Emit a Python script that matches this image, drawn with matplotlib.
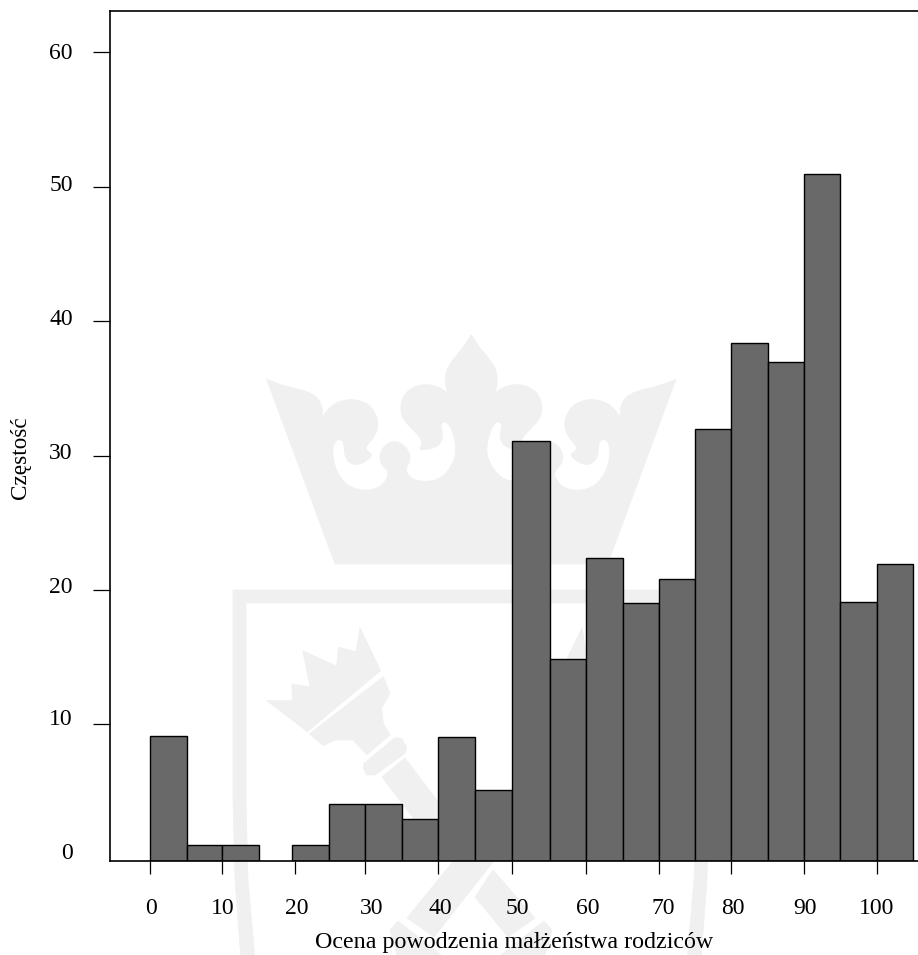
"""
Histogram of parents' marriage success ratings, on the pale crest watermark.
"""
import numpy as np
from matplotlib import pyplot as plt
from matplotlib.patches import Polygon
from matplotlib.transforms import Affine2D, ScaledTranslation

# the original bars are not evenly spaced, edges are read off the picture
bin_edges = [0, 5.09, 10.01, 15.03, 19.6, 24.66, 29.66, 34.66, 39.66, 44.7, 49.9, 55.06, 60.05,
             65.1, 70.08, 75.0, 80.0, 85.0, 90.0, 95.0, 100.0, 105.03]
counts = [9.13, 1.06, 1.06, 0, 1.05, 4.1, 4.1, 3.0, 9.1, 5.1, 31.05, 14.9, 22.4,
          19.0, 20.85, 32.0, 38.4, 36.95, 50.9, 19.1, 21.9]
x_tick_positions = [0, 10.01, 20.03, 29.66, 39.66, 49.9, 60.05, 70.08, 80.0, 90.0, 100.0]
x_tick_labels = ['0', '10', '20', '30', '40', '50', '60', '70', '80', '90', '100']
y_ticks = list(range(0, 61, 10))
x_label = 'Ocena powodzenia małżeństwa rodziców'
y_label = 'Częstość'

W, H = 918, 955
GREY = '#f0f0f0'

plt.rcParams['font.family'] = ['Liberation Serif', 'DejaVu Serif']

fig = plt.figure(figsize=(W / 100, H / 100), dpi=100, facecolor='white')
# pixel coordinates of the picture, y going down
px = Affine2D().scale(1 / W, -1 / H).translate(0, 1) + fig.transFigure


def shape(points):
    fig.add_artist(Polygon(points, closed=True, facecolor=GREY, edgecolor=GREY,
                           linewidth=0.5, transform=px, zorder=-1))


def mirror(points, axis):
    return [(axis - x, y) for x, y in points]


def smooth(points, passes=2):
    """ Corner cutting, so the traced outline does not look polygonal. """
    pts = np.array(points, dtype=float)
    for _ in range(passes):
        nxt = np.roll(pts, -1, axis=0)
        pts = np.column_stack([0.75 * pts + 0.25 * nxt, 0.25 * pts + 0.75 * nxt]).reshape(-1, 2)
    return pts


def draw_watermark():
    # crown, traced on a crop at 3x (offset 220, 320), symmetric around 754
    crown = [(345, 732), (345, 732), (140, 178), (140, 178), (200, 200), (265, 215), (295, 235),
             (308, 265), (306, 292), (306, 292),
             (335, 255), (370, 240), (410, 238), (450, 255), (472, 290), (475, 325), (460, 355),
             (437, 380), (440, 392), (460, 405), (430, 430), (400, 435), (380, 420), (372, 395),
             (372, 365), (355, 356), (340, 372), (338, 410), (350, 455), (380, 497), (430, 513),
             (475, 505), (500, 480), (506, 455), (485, 435), (477, 410), (490, 378), (520, 362),
             (550, 372), (570, 400), (570, 425), (555, 450), (575, 478), (620, 486), (665, 475),
             (700, 430), (710, 385), (695, 325), (675, 302), (660, 315), (670, 345), (660, 375),
             (630, 388), (600, 390), (600, 390), (607, 360), (580, 330), (550, 300), (540, 265),
             (550, 225), (580, 200), (620, 192), (655, 200), (682, 218), (682, 218), (675, 185),
             (680, 145), (710, 105), (735, 75), (753, 45), (753, 45)]
    crown = crown + mirror(crown, 1508)[::-1]
    shape(smooth([(220 + x / 3, 320 + y / 3) for x, y in crown]))

    # shield band, open at the bottom
    left = [(241, 960), (235, 880), (233, 800), (233, 590)]
    inner = [(246, 603), (246, 800), (248, 880), (255, 960)]
    shape(left + mirror(left, 942)[::-1] + mirror(inner, 942)[::-1] + inner)

    # torch head, brush and collar, traced on a crop at 3x (offset 220, 580)
    head = [(140, 362), (218, 362), (215, 312), (270, 320), (248, 212), (350, 258), (355, 202),
            (408, 215), (420, 143), (482, 272), (262, 455)]
    brush = [(490, 290), (510, 340), (485, 385), (490, 430), (510, 465), (440, 525), (400, 480),
             (345, 480), (310, 497), (268, 462)]
    collar = [(432, 550), (525, 473), (545, 475), (560, 500), (555, 520), (465, 585), (440, 585),
              (430, 565)]
    for part in (head, brush, collar):
        part = [(220 + x / 3, 580 + y / 3) for x, y in part]
        shape(part)
        shape(mirror(part, 942))

    # handles crossing below the axis
    shape([(382, 777), (405, 758), (455, 824), (432, 843)])
    shape([(537, 758), (560, 777), (434, 937), (407, 918)])
    shape([(493, 870), (475, 897), (508, 937), (535, 918)])
    butt = [(390, 930), (398, 921), (445, 958), (438, 965), (400, 965)]
    shape(butt)
    shape(mirror(butt, 942))


draw_watermark()

ax = fig.add_axes([109.5 / W, (H - 861) / H, (W - 109.5) / W, 850 / H])
ax.patch.set_alpha(0)

y_min = -0.15
edges = np.array(bin_edges)
counts = np.array(counts)
shown = counts > 0
ax.bar(edges[:-1][shown], counts[shown] - y_min, bottom=y_min, width=np.diff(edges)[shown],
       align='edge', color='#696969', edgecolor='black', linewidth=1.0, zorder=2)

ax.set_xlim(-5.53, 105.68)
ax.set_ylim(y_min, 63.05)

ax.spines['right'].set_visible(False)
for side in ('top', 'left', 'bottom'):
    ax.spines[side].set_linewidth(1.2)
    ax.spines[side].set_zorder(3)

ax.set_xticks(x_tick_positions, labels=x_tick_labels)
ax.set_yticks(y_ticks)
ax.tick_params(axis='x', length=9.4, width=0.9, pad=17.5, labelsize=17)
ax.tick_params(axis='y', length=12, width=0.9, pad=14.5, labelsize=17)
ax.yaxis.get_major_ticks()[0].tick1line.set_visible(False)

# the labels do not sit exactly on their ticks in the original
x_nudge = [1.5, 0, 1, 6, 2.3, 5, 1, 4.5, 2, 1, 0]
y_nudge = [7.5, 7, 5, 5, 4, 4, 1.5]
for label, dx in zip(ax.get_xticklabels(), x_nudge):
    label.set_transform(label.get_transform() + ScaledTranslation(dx / 100, 0, fig.dpi_scale_trans))
for label, dy in zip(ax.get_yticklabels(), y_nudge):
    label.set_transform(label.get_transform() + ScaledTranslation(0, dy / 100, fig.dpi_scale_trans))

ax.set_xlabel(x_label, fontsize=17.3)
ax.set_ylabel(y_label, fontsize=16.7)
ax.xaxis.set_label_coords(514.5, 942, transform=px)
ax.xaxis.label.set_va('center')
ax.yaxis.set_label_coords(20, 458, transform=px)
ax.yaxis.label.set_va('center')

fig.savefig('out.png', dpi=100)
